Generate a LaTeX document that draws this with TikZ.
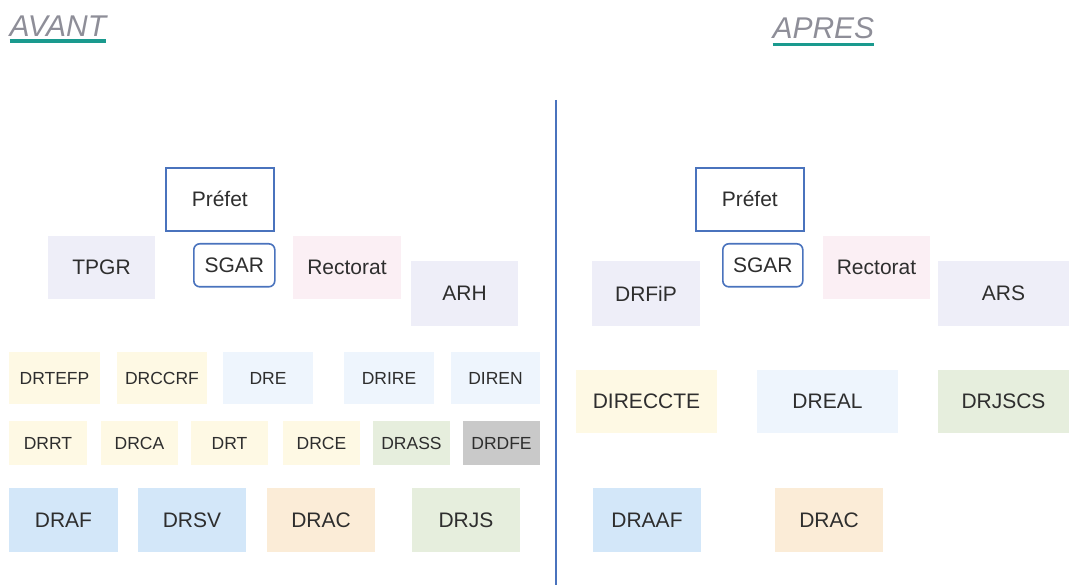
\documentclass[tikz,border=0pt]{standalone}
\usepackage{fontspec}
\setmainfont{Liberation Sans}
\definecolor{txt}{HTML}{2E2E2E}
\definecolor{frame}{HTML}{4A73BD}
\definecolor{lav}{HTML}{EEEEF8}
\definecolor{pinkc}{HTML}{FBEFF4}
\definecolor{yel}{HTML}{FEF9E4}
\definecolor{lblue}{HTML}{EEF5FD}
\definecolor{grn}{HTML}{E6EEDD}
\definecolor{grey}{HTML}{C9C9C9}
\definecolor{mblue}{HTML}{D3E7F9}
\definecolor{peach}{HTML}{FBECD7}
\definecolor{titlec}{HTML}{8E8E98}
\definecolor{teal}{HTML}{1A9A8E}
\tikzset{
  x=1pt, y=-1pt,
  box/.style={anchor=north west, inner sep=0pt, outer sep=0pt, text=txt, align=center},
  big/.style={font=\fontsize{21}{25}\selectfont},
  small/.style={font=\fontsize{17.5}{21}\selectfont},
  framed/.style={draw=frame, line width=1.6pt, fill=white},
  ttl/.style={anchor=base west, inner sep=0pt, outer sep=0pt, text=titlec, font=\fontsize{30}{35}\selectfont\itshape},
  uline/.style={draw=teal, line width=3.4pt},
  sep/.style={draw=frame, line width=1.6pt}
}
\begin{document}
\begin{tikzpicture}
\useasboundingbox (0,0) rectangle (1069,585);
% titles
\node[ttl] (avant) at (9.5,37) {AVANT};
\draw[uline] ([yshift=-4pt]avant.base west) -- ([yshift=-4pt]avant.base east);
\node[ttl] (apres) at (772.5,38.5) {APRES};
\draw[uline] ([yshift=-6pt]apres.base west) -- ([yshift=-6pt]apres.base east);
% separator
\coordinate (septop) at (556,100);
\coordinate (sepbot) at (556,585);
\draw[sep] (septop) -- (sepbot);
% ---------- AVANT ----------
\node[box,big,framed,minimum width=108pt,minimum height=63pt] (prefetL) at (165.8,167.8) {Préfet};
\node[box,big,fill=lav,minimum width=107pt,minimum height=63pt] (tpgr) at (48,236) {TPGR};
\node[box,big,framed,rounded corners=6pt,minimum width=81pt,minimum height=43pt] (sgarL) at (193.8,243.8) {SGAR};
\node[box,big,fill=pinkc,minimum width=108pt,minimum height=63pt] (rectoratL) at (293,236) {Rectorat};
\node[box,big,fill=lav,minimum width=107pt,minimum height=65pt] (arh) at (411,261) {ARH};
% row 1
\node[box,small,fill=yel,minimum width=91pt,minimum height=52pt] (drtefp) at (9,352) {DRTEFP};
\node[box,small,fill=yel,minimum width=90pt,minimum height=52pt] (drccrf) at (117,352) {DRCCRF};
\node[box,small,fill=lblue,minimum width=90pt,minimum height=52pt] (dre) at (223,352) {DRE};
\node[box,small,fill=lblue,minimum width=90pt,minimum height=52pt] (drire) at (344,352) {DRIRE};
\node[box,small,fill=lblue,minimum width=89pt,minimum height=52pt] (diren) at (451,352) {DIREN};
% row 2
\node[box,small,fill=yel,minimum width=78pt,minimum height=44pt] (drrt) at (9,421) {DRRT};
\node[box,small,fill=yel,minimum width=77pt,minimum height=44pt] (drca) at (101,421) {DRCA};
\node[box,small,fill=yel,minimum width=77pt,minimum height=44pt] (drt) at (191,421) {DRT};
\node[box,small,fill=yel,minimum width=77pt,minimum height=44pt] (drce) at (283,421) {DRCE};
\node[box,small,fill=grn,minimum width=77pt,minimum height=44pt] (drass) at (373,421) {DRASS};
\node[box,small,fill=grey,minimum width=77pt,minimum height=44pt] (drdfe) at (463,421) {DRDFE};
% row 3
\node[box,big,fill=mblue,minimum width=109pt,minimum height=64pt] (draf) at (9,488) {DRAF};
\node[box,big,fill=mblue,minimum width=108pt,minimum height=64pt] (drsv) at (138,488) {DRSV};
\node[box,big,fill=peach,minimum width=108pt,minimum height=64pt] (dracL) at (267,488) {DRAC};
\node[box,big,fill=grn,minimum width=108pt,minimum height=64pt] (drjs) at (412,488) {DRJS};
% ---------- APRES ----------
\node[box,big,framed,minimum width=108pt,minimum height=63pt] (prefetR) at (695.8,167.8) {Préfet};
\node[box,big,framed,rounded corners=6pt,minimum width=80pt,minimum height=43pt] (sgarR) at (722.8,243.8) {SGAR};
\node[box,big,fill=pinkc,minimum width=107pt,minimum height=63pt] (rectoratR) at (823,236) {Rectorat};
\node[box,big,fill=lav,minimum width=108pt,minimum height=65pt] (drfip) at (592,261) {DRFiP};
\node[box,big,fill=lav,minimum width=131pt,minimum height=65pt] (ars) at (938,261) {ARS};
\node[box,big,fill=yel,minimum width=141pt,minimum height=63pt] (direccte) at (576,370) {DIRECCTE};
\node[box,big,fill=lblue,minimum width=141pt,minimum height=63pt] (dreal) at (757,370) {DREAL};
\node[box,big,fill=grn,minimum width=131pt,minimum height=63pt] (drjscs) at (938,370) {DRJSCS};
\node[box,big,fill=mblue,minimum width=108pt,minimum height=64pt] (draaf) at (593,488) {DRAAF};
\node[box,big,fill=peach,minimum width=108pt,minimum height=64pt] (dracR) at (775,488) {DRAC};
\end{tikzpicture}
\end{document}
